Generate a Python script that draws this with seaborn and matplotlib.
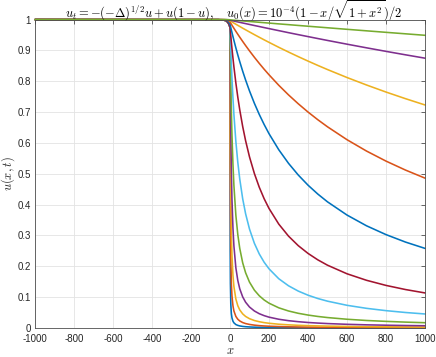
"""
Fractional Fisher-KPP: profiles u(x,t) at successive times, MATLAB-like look.
"""

import matplotlib
matplotlib.use("Agg")
import matplotlib.pyplot as plt
import pandas as pd
import seaborn as sns

# ── Data (one profile per time level) ────────────────────────────────────────
x = [-1000, -60, -40, -30, -20, -15, -10, -5,
     0, 1, 2, 4, 7, 10, 15, 20, 30, 40, 50, 65, 80, 100, 125, 150, 175, 200,
     250, 300, 350, 400, 450, 500, 600, 700, 800, 900, 1000]

left_early = [1.0, 0.9995, 0.9988, 0.998, 0.996, 0.9935, 0.99, 0.984, 0.975]

curve_01 = left_early + [0.2528, 0.145, 0.0784, 0.0464, 0.033, 0.0222, 0.0168, 0.0112, 0.0085, 0.0068,
                         0.0052, 0.0042, 0.0034, 0.0027, 0.0023, 0.0019, 0.0017, 0.0014, 0.0011, 0.001,
                         0.00085, 0.00076, 0.00068, 0.00057, 0.00049, 0.00043, 0.00038, 0.00034]
curve_02 = left_early + [0.5318, 0.366, 0.225, 0.1427, 0.1045, 0.0722, 0.0552, 0.0375, 0.0284, 0.0229,
                         0.0177, 0.0144, 0.0116, 0.0093, 0.0077, 0.0066, 0.0058, 0.0047, 0.0039, 0.0033,
                         0.0029, 0.0026, 0.0023, 0.0019, 0.0017, 0.0015, 0.0013, 0.0012]
curve_03 = left_early + [0.7429, 0.6, 0.4333, 0.3059, 0.2364, 0.1714, 0.1345, 0.094, 0.0722, 0.0586,
                         0.0458, 0.0375, 0.0302, 0.0243, 0.0204, 0.0175, 0.0154, 0.0123, 0.0103, 0.0088,
                         0.0077, 0.0069, 0.0062, 0.0052, 0.0044, 0.0039, 0.0035, 0.0031]
curve_04 = left_early + [0.8603, 0.7697, 0.6359, 0.5043, 0.418, 0.325, 0.266, 0.195, 0.154, 0.127,
                         0.1009, 0.0836, 0.068, 0.0552, 0.0464, 0.0401, 0.0352, 0.0284, 0.0238, 0.0205,
                         0.0179, 0.016, 0.0144, 0.012, 0.0103, 0.0091, 0.0081, 0.0073]
curve_05 = left_early + [0.9237, 0.8775, 0.7977, 0.702, 0.627, 0.5318, 0.462, 0.3656, 0.3026, 0.258,
                         0.2114, 0.1791, 0.1487, 0.1227, 0.1045, 0.0909, 0.0805, 0.0655, 0.0552, 0.0477,
                         0.042, 0.0375, 0.0339, 0.0284, 0.0244, 0.0215, 0.0191, 0.0172]
curve_06 = left_early + [0.9555, 0.9368, 0.9014, 0.8531, 0.81, 0.7465, 0.6924, 0.6048, 0.5368, 0.4826,
                         0.4191, 0.3703, 0.3206, 0.2746, 0.2401, 0.2133, 0.1919, 0.1598, 0.1369, 0.1197,
                         0.1064, 0.0957, 0.087, 0.0736, 0.0638, 0.0563, 0.0503, 0.0455]
curve_07 = left_early + [0.9677, 0.9605, 0.9463, 0.9259, 0.9063, 0.8755, 0.8467, 0.7944, 0.7483, 0.7071,
                         0.6533, 0.6071, 0.5547, 0.5008, 0.4564, 0.4192, 0.3876, 0.3369, 0.2979, 0.267,
                         0.2419, 0.2211, 0.2036, 0.1758, 0.1547, 0.1381, 0.1247, 0.1137]
curve_08 = [1.0, 0.9997, 0.9993, 0.9988, 0.9976, 0.996, 0.994, 0.99, 0.985,
            0.9822, 0.9795, 0.974, 0.9659, 0.958, 0.9451, 0.9325, 0.9082, 0.8852, 0.8634,
            0.8326, 0.8039, 0.7685, 0.7285, 0.6924, 0.6598, 0.63, 0.578, 0.5339, 0.496,
            0.4631, 0.4344, 0.409, 0.3662, 0.3314, 0.3028, 0.2786, 0.2581]
curve_09 = [1.0, 0.9998, 0.9996, 0.9994, 0.9987, 0.998, 0.997, 0.995, 0.992,
            0.991, 0.9899, 0.9879, 0.9848, 0.9818, 0.9767, 0.9718, 0.9619, 0.9523, 0.9429,
            0.9291, 0.9157, 0.8984, 0.8777, 0.8579, 0.839, 0.821, 0.787, 0.7558, 0.727,
            0.7002, 0.6754, 0.6523, 0.6105, 0.5737, 0.5411, 0.512, 0.4859]
curve_10 = [1.0, 0.9999, 0.9998, 0.9997, 0.9994, 0.999, 0.9985, 0.998, 0.996,
            0.9956, 0.9952, 0.9945, 0.9934, 0.9923, 0.9904, 0.9885, 0.9849, 0.9812, 0.9776,
            0.9721, 0.9668, 0.9598, 0.9511, 0.9426, 0.9343, 0.9261, 0.9101, 0.8947, 0.8798,
            0.8654, 0.8514, 0.8379, 0.8121, 0.7879, 0.765, 0.7435, 0.7231]
curve_11 = [1.0, 1.0, 0.9999, 0.9998, 0.9997, 0.9995, 0.9993, 0.999, 0.998,
            0.9979, 0.9977, 0.9974, 0.997, 0.9966, 0.9959, 0.9952, 0.9938, 0.9924, 0.991,
            0.9889, 0.9869, 0.9841, 0.9807, 0.9774, 0.974, 0.9707, 0.9641, 0.9575, 0.9511,
            0.9448, 0.9385, 0.9323, 0.9202, 0.9084, 0.8969, 0.8857, 0.8748]
curve_12 = [1.0, 1.0, 1.0, 1.0, 0.9999, 0.9998, 0.9997, 0.9995, 0.999,
            0.999, 0.9989, 0.9988, 0.9986, 0.9985, 0.9982, 0.998, 0.9974, 0.9969, 0.9964,
            0.9956, 0.9948, 0.9938, 0.9925, 0.9912, 0.9899, 0.9886, 0.986, 0.9835, 0.9809,
            0.9784, 0.9759, 0.9734, 0.9684, 0.9635, 0.9586, 0.9538, 0.949]

curves = [curve_01, curve_02, curve_03, curve_04, curve_05, curve_06,
          curve_07, curve_08, curve_09, curve_10, curve_11, curve_12]
curve_names = [f"t{k + 1:02d}" for k in range(len(curves))]

# MATLAB default colour order, cycled
line_colors = ["#0072BD", "#D95319", "#EDB120", "#7E2F8E", "#77AC30", "#4DBEEE",
               "#A2142F", "#0072BD", "#D95319", "#EDB120", "#7E2F8E", "#77AC30"]

x_ticks = [-1000, -800, -600, -400, -200, 0, 200, 400, 600, 800, 1000]
x_ticklabels = ["-1000", "-800", "-600", "-400", "-200", "0", "200", "400", "600", "800", "1000"]
y_ticks = [0, 0.1, 0.2, 0.3, 0.4, 0.5, 0.6, 0.7, 0.8, 0.9, 1]
y_ticklabels = ["0", "0.1", "0.2", "0.3", "0.4", "0.5", "0.6", "0.7", "0.8", "0.9", "1"]

df = pd.DataFrame({
    "x": x * len(curves),
    "u": [v for c in curves for v in c],
    "t": [name for name in curve_names for _ in x],
})

# ── Style ────────────────────────────────────────────────────────────────────
sns.set_style("white")
plt.rcParams["font.family"] = ["Liberation Sans", "DejaVu Sans"]
plt.rcParams["mathtext.fontset"] = "cm"

fig = plt.figure(figsize=(4.36, 3.57), dpi=100)
ax = fig.add_axes([0.0803, 0.0812, 0.8945, 0.8640])

sns.lineplot(
    data=df, x="x", y="u", hue="t", hue_order=curve_names,
    palette=dict(zip(curve_names, line_colors)),
    estimator=None, sort=False, legend=False, linewidth=1.15, ax=ax,
)
for ln in ax.get_lines():
    ln.set_clip_on(False)
    ln.set_solid_joinstyle("round")

ax.set_xlim(-1000, 1000)
ax.set_ylim(0, 1)
ax.set_xticks(x_ticks)
ax.set_xticklabels(x_ticklabels)
ax.set_yticks(y_ticks)
ax.set_yticklabels(y_ticklabels)
ax.grid(True, color="#e3e3e3", linewidth=0.6)
ax.set_axisbelow(True)

ax.tick_params(direction="in", length=3, width=0.6, top=True, right=True,
               colors="#4d4d4d", labelcolor="#262626", labelsize=7)
ax.tick_params(axis="x", pad=4)
ax.tick_params(axis="y", pad=3)
for sp in ax.spines.values():
    sp.set_color("#4d4d4d")
    sp.set_linewidth(0.6)
    sp.set_visible(True)

ax.set_xlabel("$x$", fontsize=9, labelpad=1)
ax.set_ylabel("$u(x,t)$", fontsize=9)
ax.yaxis.set_label_coords(-0.045, 0.5)

# title placed by baseline so the tall radical does not push it into the axes
fig.text(0.535, 0.950,
         r"$u_t=-(-\Delta)^{1/2}u+u(1-u),\quad u_0(x)=10^{-4}(1-x/\sqrt{1+x^2})/2$",
         fontsize=9.0, ha="center", va="baseline", color="black")

fig.savefig("out.png", dpi=100)
